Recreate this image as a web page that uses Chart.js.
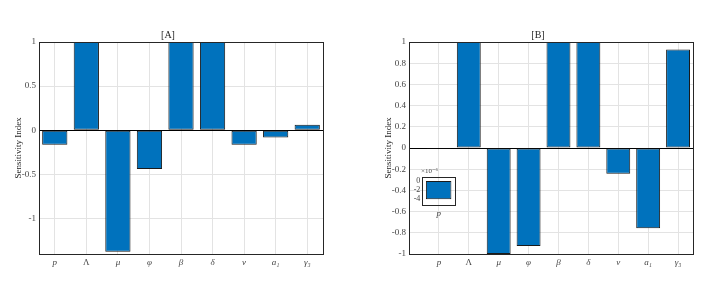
<!DOCTYPE html>
<html>
<head>
<meta charset="utf-8">
<script src="https://cdn.jsdelivr.net/npm/chart.js@4"></script>
<style>
  body { margin: 0; background: #fff; width: 727px; height: 282px; position: relative; overflow: hidden; }
  canvas { position: absolute; }
</style>
</head>
<body>
<canvas id="chartA" width="363" height="282" style="left:0;top:0"></canvas>
<canvas id="chartB" width="364" height="282" style="left:363px;top:0"></canvas>
<canvas id="inset" width="60" height="60" style="left:404px;top:160px"></canvas>
<script>
// parameter names on the x axis
const params = ['p', 'Λ', 'μ', 'φ', 'β', 'δ', 'ν', 'a₁', 'γ₃'];
// sensitivity indices
const sensA = [-0.167, 1, -1.38, -0.44, 1, 1, -0.165, -0.084, 0.06];
const sensB = [-4.2e-6, 1, -1, -0.925, 1, 1, -0.242, -0.758, 0.93];
const ticksA = [-1, -0.5, 0, 0.5, 1];
const ticksB = [-1, -0.8, -0.6, -0.4, -0.2, 0, 0.2, 0.4, 0.6, 0.8, 1];
const insetTicks = [-4e-6, -2e-6, 0];

const barBlue = '#0072BD';
const axisCol = '#262626';
const serif = '"Liberation Serif", "DejaVu Serif", serif';

// matlab style box round the axes
const boxPlugin = {
  id: 'box',
  afterDraw(chart) {
    const a = chart.chartArea, c = chart.ctx;
    c.save();
    c.strokeStyle = axisCol;
    c.lineWidth = 1;
    c.strokeRect(Math.round(a.left) + 0.5, Math.round(a.top) + 0.5,
      Math.round(a.right - a.left), Math.round(a.bottom - a.top));
    c.restore();
  }
};

function makeBars(id, values, yTicks, ymin, ymax, xmin, title, pad, yw) {
  return new Chart(document.getElementById(id), {
    type: 'bar',
    data: {
      datasets: [{
        data: values.map((v, i) => ({ x: i + 1, y: v })),
        backgroundColor: barBlue,
        borderColor: '#1a1a1a',
        borderWidth: 1,
        borderSkipped: false,
        categoryPercentage: 0.8,
        barPercentage: 1
      }]
    },
    options: {
      responsive: false,
      animation: false,
      devicePixelRatio: 1,
      layout: { padding: pad },
      plugins: {
        legend: { display: false },
        tooltip: { enabled: false },
        title: {
          display: true, text: title, color: axisCol,
          font: { family: serif, size: 10, weight: 'normal' },
          padding: { top: 0, bottom: 1 }
        }
      },
      scales: {
        x: {
          type: 'linear', min: xmin, max: 9.5, offset: false,
          afterBuildTicks: s => { s.ticks = params.map((_, i) => ({ value: i + 1 })); },
          afterFit: s => { s.height = 28; },
          grid: { color: '#e3e3e3', drawTicks: false, offset: false },
          border: { display: false },
          ticks: {
            color: '#444', padding: 3, maxRotation: 0, autoSkip: false,
            font: ctx => ({ family: serif, size: 9, style: ctx.tick && ctx.tick.value === 2 ? 'normal' : 'italic' }),
            callback: v => params[v - 1]
          }
        },
        y: {
          min: ymin, max: ymax,
          afterBuildTicks: s => { s.ticks = yTicks.map(v => ({ value: v })); },
          afterFit: s => { s.width = yw; },
          grid: {
            drawTicks: false,
            color: ctx => ctx.tick && ctx.tick.value === 0 ? '#000' : '#e3e3e3'
          },
          border: { display: false },
          title: {
            display: true, text: 'Sensitivity Index', color: axisCol,
            font: { family: serif, size: 9 }, padding: 0
          },
          ticks: {
            color: '#444', padding: 3,
            font: { family: serif, size: 9 },
            callback: v => String(v)
          }
        }
      }
    },
    plugins: [boxPlugin]
  });
}

makeBars('chartA', sensA, ticksA, -1.405, 1, 0.5, '[A]', { left: 13, right: 40, top: 29, bottom: 0 }, 26);
makeBars('chartB', sensB, ticksB, -1, 1, 0, '[B]', { left: 20, right: 34, top: 29, bottom: 0 }, 26);

// zoomed inset for the tiny p value of [B]
new Chart(document.getElementById('inset'), {
  type: 'bar',
  data: {
    labels: [params[0]],
    datasets: [{
      data: [sensB[0]],
      backgroundColor: barBlue,
      borderColor: '#1a1a1a',
      borderWidth: 1,
      borderSkipped: false,
      categoryPercentage: 0.78,
      barPercentage: 1
    }]
  },
  options: {
    responsive: false,
    animation: false,
    devicePixelRatio: 1,
    layout: { padding: { left: 0, right: 9, top: 0, bottom: 0 } },
    plugins: {
      legend: { display: false },
      tooltip: { enabled: false },
      title: {
        display: true, text: '×10⁻⁶', color: '#444',
        font: { family: serif, size: 7, weight: 'normal' },
        padding: { top: 7, bottom: 2 }
      }
    },
    scales: {
      x: {
        afterFit: s => { s.height = 15; },
        grid: { display: false, drawTicks: false },
        border: { display: false },
        ticks: { color: '#444', padding: 3, font: { family: serif, size: 9, style: 'italic' } }
      },
      y: {
        min: -5.5e-6, max: 0.8e-6,
        afterBuildTicks: s => { s.ticks = insetTicks.map(v => ({ value: v })); },
        afterFit: s => { s.width = 18.3; },
        grid: { display: false, drawTicks: false },
        border: { display: false },
        ticks: {
          color: '#444', padding: 2,
          font: { family: serif, size: 8 },
          callback: v => String(Math.round(v * 1e6))
        }
      }
    }
  },
  plugins: [boxPlugin]
});
</script>
</body>
</html>
